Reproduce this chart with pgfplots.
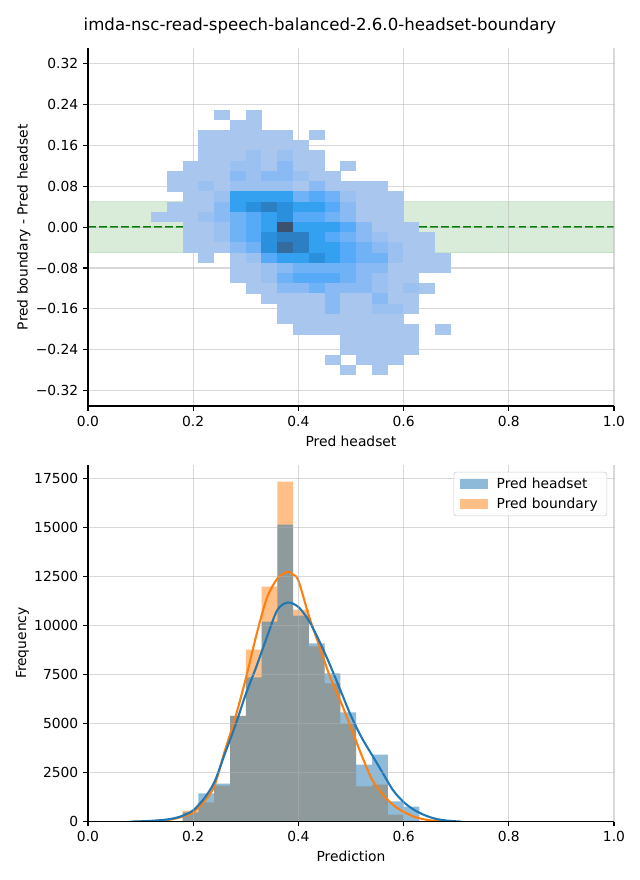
\documentclass[border=0pt]{standalone}
\usepackage{fontspec}
\setmainfont{DejaVu Sans}
\usepackage{pgfplots}
\pgfplotsset{compat=1.18}

\definecolor{mplblue}{HTML}{1F77B4}
\definecolor{mplorange}{HTML}{FF7F0E}
\definecolor{mplgreen}{HTML}{008000}

% one 2d-histogram cell (0.03 x 0.02 in axis units), centred on the point
\pgfdeclareplotmark{cell}{%
  \pgfpathrectangle{\pgfplotspointaxisdirectionxy{-0.0152}{-0.0102}}{\pgfplotspointaxisdirectionxy{0.0304}{0.0204}}%
  \pgfusepath{fill}}

\pgfplotsset{
  mplax/.style={
    scale only axis, width=378.7bp,
    xmin=0, xmax=1,
    axis x line*=bottom, axis y line*=left,
    axis line style={line width=0.8bp},
    tick align=outside, major tick length=3.5bp,
    every tick/.style={black, line width=0.8bp},
    grid=major, grid style={gray!60, opacity=0.5, line width=0.8bp},
    axis on top,
    tick label style={font=\fontsize{10}{12}\selectfont},
    label style={font=\fontsize{10}{12}\selectfont},
    ylabel style={yshift=-3bp},
    xtick={0,0.2,0.4,0.6,0.8,1},
    xticklabel style={/pgf/number format/fixed, /pgf/number format/fixed zerofill, /pgf/number format/precision=1},
    /pgf/number format/assume math mode=true,
  },
}

\begin{document}
\begin{tikzpicture}

\begin{axis}[mplax,
  name=top, at={(0,0)}, anchor=south west,
  height=257.5bp,
  ymin=-0.35, ymax=0.35,
  ytick={-0.32,-0.24,-0.16,-0.08,0,0.08,0.16,0.24,0.32},
  yticklabels={−0.32,−0.24,−0.16,−0.08,0.00,0.08,0.16,0.24,0.32},
  xlabel={Pred headset},
  ylabel={Pred boundary - Pred headset},
  colormap={snsblue}{rgb255=(169,199,238) rgb255=(155,193,241) rgb255=(138,186,243) rgb255=(112,178,246) rgb255=(86,170,247) rgb255=(52,160,240) rgb255=(42,143,220) rgb255=(45,127,195) rgb255=(52,108,160) rgb255=(58,82,112)},
  point meta min=1, point meta max=10,
]
\addplot[fill=mplgreen, draw=mplgreen, opacity=0.15] coordinates {(0,-0.05) (1,-0.05) (1,0.05) (0,0.05) (0,-0.05)};

\addplot[scatter, only marks, mark=cell, point meta=explicit,
  scatter/use mapped color={fill=mapped color, draw=none}] coordinates {
  (0.255,0.22) [1] (0.315,0.22) [1]
  (0.285,0.20) [1] (0.315,0.20) [1]
  (0.225,0.18) [1] (0.255,0.18) [1] (0.285,0.18) [1] (0.315,0.18) [1] (0.345,0.18) [1] (0.375,0.18) [1] (0.435,0.18) [1]
  (0.225,0.16) [1] (0.255,0.16) [1] (0.285,0.16) [1] (0.315,0.16) [1] (0.345,0.16) [1] (0.375,0.16) [1] (0.405,0.16) [1]
  (0.225,0.14) [1] (0.255,0.14) [1] (0.285,0.14) [1] (0.315,0.14) [2] (0.345,0.14) [1] (0.375,0.14) [2] (0.405,0.14) [1] (0.435,0.14) [1]
  (0.195,0.12) [1] (0.225,0.12) [1] (0.255,0.12) [1] (0.285,0.12) [2] (0.315,0.12) [2] (0.345,0.12) [1] (0.375,0.12) [3] (0.405,0.12) [1] (0.435,0.12) [1] (0.495,0.12) [1]
  (0.165,0.10) [1] (0.195,0.10) [1] (0.225,0.10) [1] (0.255,0.10) [1] (0.285,0.10) [3] (0.315,0.10) [2] (0.345,0.10) [3] (0.375,0.10) [3] (0.405,0.10) [2] (0.435,0.10) [1] (0.465,0.10) [1]
  (0.165,0.08) [1] (0.195,0.08) [1] (0.225,0.08) [2] (0.255,0.08) [1] (0.285,0.08) [2] (0.315,0.08) [2] (0.345,0.08) [2] (0.375,0.08) [2] (0.405,0.08) [1] (0.435,0.08) [3] (0.465,0.08) [1] (0.495,0.08) [1] (0.525,0.08) [1] (0.555,0.08) [1]
  (0.195,0.06) [1] (0.225,0.06) [1] (0.255,0.06) [2] (0.285,0.06) [6] (0.315,0.06) [6] (0.345,0.06) [6] (0.375,0.06) [6] (0.405,0.06) [4] (0.435,0.06) [5] (0.465,0.06) [4] (0.495,0.06) [2] (0.525,0.06) [1] (0.555,0.06) [1] (0.585,0.06) [1]
  (0.165,0.04) [1] (0.195,0.04) [1] (0.225,0.04) [1] (0.255,0.04) [3] (0.285,0.04) [6] (0.315,0.04) [7] (0.345,0.04) [8] (0.375,0.04) [7] (0.405,0.04) [6] (0.435,0.04) [6] (0.465,0.04) [5] (0.495,0.04) [3] (0.525,0.04) [1] (0.555,0.04) [1] (0.585,0.04) [1]
  (0.135,0.02) [1] (0.165,0.02) [1] (0.195,0.02) [1] (0.225,0.02) [2] (0.255,0.02) [3] (0.285,0.02) [4] (0.315,0.02) [5] (0.345,0.02) [6] (0.375,0.02) [7] (0.405,0.02) [5] (0.435,0.02) [5] (0.465,0.02) [4] (0.495,0.02) [3] (0.525,0.02) [1] (0.555,0.02) [1] (0.585,0.02) [1]
  (0.195,0.00) [1] (0.225,0.00) [1] (0.255,0.00) [2] (0.285,0.00) [4] (0.315,0.00) [5] (0.345,0.00) [6] (0.375,0.00) [10] (0.405,0.00) [6] (0.435,0.00) [6] (0.465,0.00) [6] (0.495,0.00) [5] (0.525,0.00) [3] (0.555,0.00) [1] (0.585,0.00) [1] (0.615,0.00) [1]
  (0.195,-0.02) [1] (0.225,-0.02) [1] (0.255,-0.02) [2] (0.285,-0.02) [4] (0.315,-0.02) [5] (0.345,-0.02) [7] (0.375,-0.02) [8] (0.405,-0.02) [8] (0.435,-0.02) [6] (0.465,-0.02) [5] (0.495,-0.02) [4] (0.525,-0.02) [3] (0.555,-0.02) [2] (0.585,-0.02) [1] (0.615,-0.02) [1] (0.645,-0.02) [1]
  (0.195,-0.04) [1] (0.225,-0.04) [1] (0.255,-0.04) [1] (0.285,-0.04) [3] (0.315,-0.04) [4] (0.345,-0.04) [7] (0.375,-0.04) [9] (0.405,-0.04) [8] (0.435,-0.04) [6] (0.465,-0.04) [6] (0.495,-0.04) [5] (0.525,-0.04) [4] (0.555,-0.04) [3] (0.585,-0.04) [2] (0.615,-0.04) [1] (0.645,-0.04) [1]
  (0.225,-0.06) [1] (0.285,-0.06) [1] (0.315,-0.06) [2] (0.345,-0.06) [5] (0.375,-0.06) [6] (0.405,-0.06) [6] (0.435,-0.06) [7] (0.465,-0.06) [6] (0.495,-0.06) [5] (0.525,-0.06) [4] (0.555,-0.06) [4] (0.585,-0.06) [2] (0.615,-0.06) [1] (0.645,-0.06) [1] (0.675,-0.06) [1]
  (0.285,-0.08) [1] (0.315,-0.08) [1] (0.345,-0.08) [2] (0.375,-0.08) [3] (0.405,-0.08) [4] (0.435,-0.08) [4] (0.465,-0.08) [4] (0.495,-0.08) [4] (0.525,-0.08) [3] (0.555,-0.08) [3] (0.585,-0.08) [1] (0.615,-0.08) [1] (0.645,-0.08) [1] (0.675,-0.08) [1]
  (0.285,-0.10) [1] (0.315,-0.10) [1] (0.345,-0.10) [2] (0.375,-0.10) [4] (0.405,-0.10) [5] (0.435,-0.10) [5] (0.465,-0.10) [5] (0.495,-0.10) [4] (0.525,-0.10) [3] (0.555,-0.10) [2] (0.585,-0.10) [1] (0.615,-0.10) [1]
  (0.315,-0.12) [1] (0.345,-0.12) [1] (0.375,-0.12) [3] (0.405,-0.12) [3] (0.435,-0.12) [4] (0.465,-0.12) [3] (0.495,-0.12) [3] (0.525,-0.12) [3] (0.555,-0.12) [2] (0.585,-0.12) [1] (0.615,-0.12) [2] (0.645,-0.12) [1]
  (0.345,-0.14) [1] (0.375,-0.14) [1] (0.405,-0.14) [1] (0.435,-0.14) [1] (0.465,-0.14) [3] (0.495,-0.14) [1] (0.525,-0.14) [1] (0.555,-0.14) [3] (0.585,-0.14) [1] (0.615,-0.14) [1]
  (0.375,-0.16) [1] (0.405,-0.16) [1] (0.435,-0.16) [1] (0.465,-0.16) [3] (0.495,-0.16) [1] (0.525,-0.16) [1] (0.555,-0.16) [2] (0.585,-0.16) [2] (0.615,-0.16) [1]
  (0.375,-0.18) [1] (0.405,-0.18) [1] (0.435,-0.18) [1] (0.465,-0.18) [1] (0.495,-0.18) [1] (0.525,-0.18) [1] (0.555,-0.18) [1] (0.585,-0.18) [1]
  (0.405,-0.20) [1] (0.435,-0.20) [1] (0.465,-0.20) [1] (0.495,-0.20) [1] (0.525,-0.20) [1] (0.555,-0.20) [1] (0.585,-0.20) [1] (0.615,-0.20) [1] (0.675,-0.20) [1]
  (0.495,-0.22) [1] (0.525,-0.22) [1] (0.555,-0.22) [1] (0.585,-0.22) [1] (0.615,-0.22) [1]
  (0.495,-0.24) [1] (0.525,-0.24) [1] (0.555,-0.24) [1] (0.585,-0.24) [1] (0.615,-0.24) [1]
  (0.465,-0.26) [1] (0.525,-0.26) [1] (0.555,-0.26) [1] (0.585,-0.26) [1]
  (0.495,-0.28) [1] (0.555,-0.28) [1]
};

\addplot[mplgreen, line width=1.5bp, dash pattern=on 5.55bp off 2.4bp] coordinates {(0,0) (1,0)};
\end{axis}

\begin{axis}[mplax,
  at={(0,-42.2bp)}, anchor=north west,
  height=257.04bp,
  ymin=0, ymax=18217,
  ytick={0,2500,5000,7500,10000,12500,15000,17500},
  scaled y ticks=false,
  yticklabel style={/pgf/number format/1000 sep={}},
  xlabel={Prediction},
  ylabel={Frequency},
  legend cell align=left,
  legend style={at={(0.987,0.98)}, anchor=north east, draw=black!20, rounded corners=2bp,
    fill=white, fill opacity=0.8, text opacity=1, font=\fontsize{10}{12}\selectfont,
    inner xsep=4.5bp, inner ysep=2bp, row sep=1.5bp},
  legend image code/.code={\fill[#1, draw=none, sharp corners] (0bp,-3.5bp) rectangle (20bp,3.5bp); \path (0bp,0bp) (24bp,0bp);},
]
% Pred boundary (drawn first, below)
\addplot[const plot, fill=mplorange, fill opacity=0.5, draw=none, forget plot] coordinates {
  (0.18,560) (0.21,985) (0.24,1837) (0.27,5400) (0.30,8775) (0.33,11990) (0.36,17347)
  (0.39,10816) (0.42,8944) (0.45,7058) (0.48,5000) (0.51,1803) (0.54,1888) (0.57,357)
  (0.60,50) (0.63,0)
} \closedcycle;
% Pred headset
\addplot[const plot, fill=mplblue, fill opacity=0.5, draw=none, forget plot] coordinates {
  (0.18,475) (0.21,1444) (0.24,1938) (0.27,5400) (0.30,7364) (0.33,10204) (0.36,15153)
  (0.39,10510) (0.42,9097) (0.45,7568) (0.48,5578) (0.51,2908) (0.54,3418) (0.57,1037)
  (0.60,765) (0.63,0)
} \closedcycle;

% KDE curves
\addplot[mplorange, line width=1.5bp, smooth, forget plot] coordinates {
  (0.09,0) (0.12,20) (0.14,50) (0.16,120) (0.18,260) (0.20,480) (0.22,1000) (0.24,1800)
  (0.26,3600) (0.28,5300) (0.30,7300) (0.32,9500) (0.34,11400) (0.36,12400) (0.38,12750)
  (0.39,12600) (0.40,12300) (0.42,10500) (0.44,8950) (0.46,7400) (0.48,6150) (0.50,4800)
  (0.52,3400) (0.54,2150) (0.56,1400) (0.58,850) (0.60,500) (0.62,250) (0.64,110)
  (0.66,40) (0.68,0)
};
\addplot[mplblue, line width=1.5bp, smooth, forget plot] coordinates {
  (0.08,0) (0.10,15) (0.12,40) (0.14,80) (0.16,150) (0.18,300) (0.20,580) (0.22,1150)
  (0.24,2000) (0.26,3450) (0.28,4900) (0.30,6500) (0.32,7900) (0.34,9400) (0.36,10800)
  (0.38,11180) (0.40,10950) (0.42,10250) (0.44,9200) (0.46,8000) (0.48,6700) (0.50,5400)
  (0.52,4300) (0.54,3400) (0.56,2500) (0.58,1600) (0.60,1000) (0.62,600) (0.64,330)
  (0.66,150) (0.68,60) (0.70,15) (0.71,0)
};

\addlegendimage{fill=mplblue, fill opacity=0.5}
\addlegendentry{Pred headset}
\addlegendimage{fill=mplorange, fill opacity=0.5}
\addlegendentry{Pred boundary}
\end{axis}

\node[font=\fontsize{12}{14.4}\selectfont] at (167bp,273.6bp) {imda-nsc-read-speech-balanced-2.6.0-headset-boundary};

\pgfresetboundingbox
\path[use as bounding box] (-63.36bp,-341.28bp) rectangle (397.44bp,292.32bp);
\end{tikzpicture}
\end{document}
